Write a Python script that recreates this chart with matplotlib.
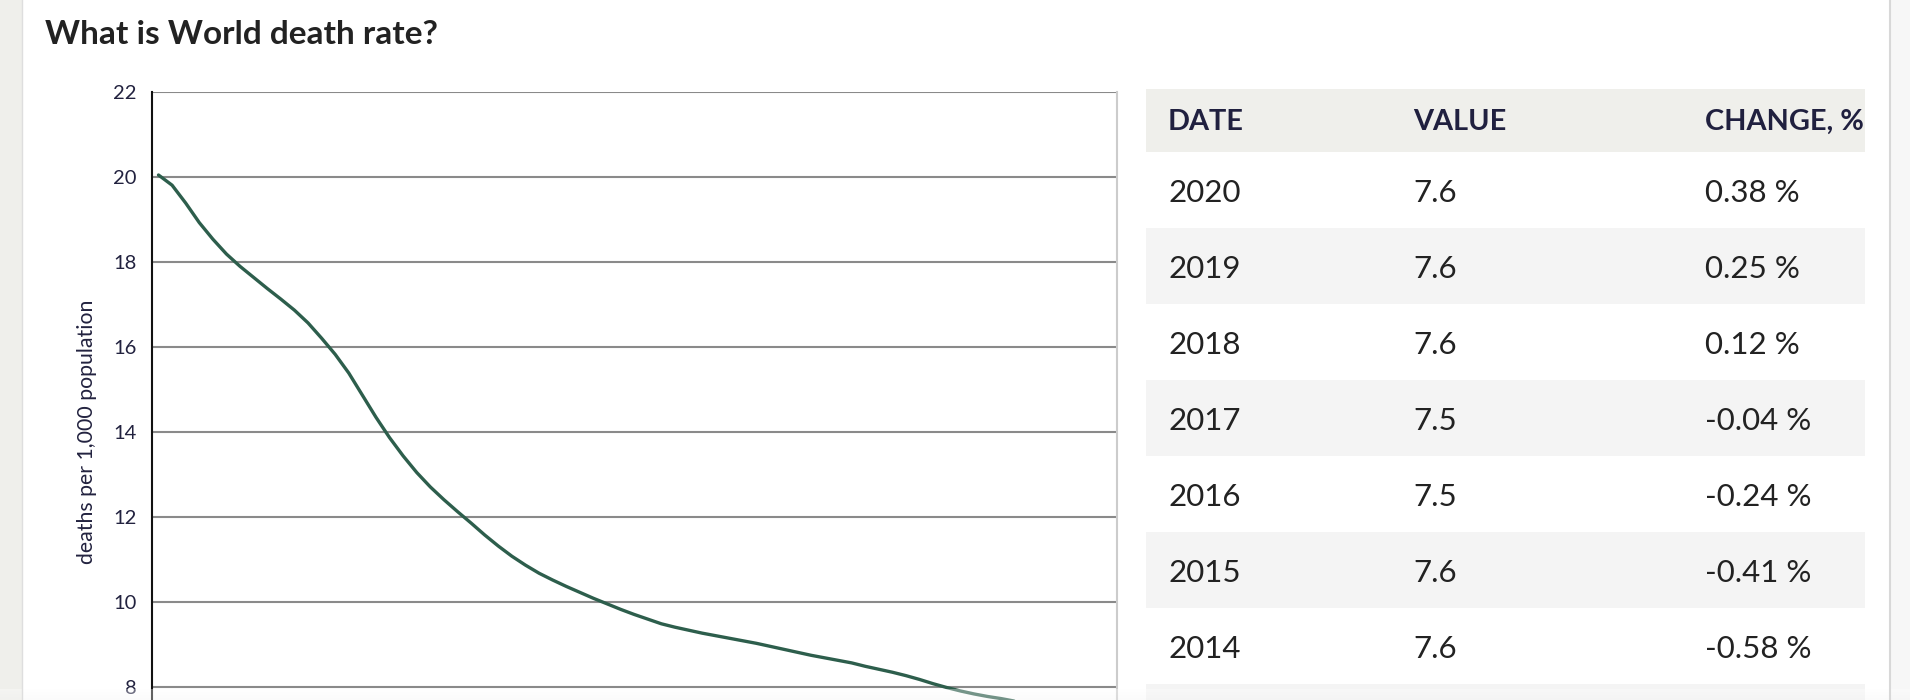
#!/usr/bin/env python3
"""World death rate line chart with a table of recent values next to it."""
import numpy as np
import matplotlib.pyplot as plt
from matplotlib.patches import Rectangle

# crude death rate, deaths per 1,000 population
YEARS = list(range(1950, 2021))
DEATH_RATE = [
    20.04, 19.80, 19.38, 18.92, 18.53, 18.18, 17.89, 17.63, 17.37, 17.12,
    16.86, 16.56, 16.20, 15.82, 15.38, 14.86, 14.34, 13.86, 13.43, 13.04,
    12.70, 12.40, 12.12, 11.85, 11.57, 11.31, 11.07, 10.86, 10.67, 10.51,
    10.36, 10.22, 10.08, 9.95, 9.82, 9.70, 9.59, 9.48, 9.40, 9.33,
    9.26, 9.20, 9.14, 9.08, 9.02, 8.95, 8.88, 8.81, 8.74, 8.68,
    8.62, 8.56, 8.48, 8.41, 8.34, 8.26, 8.17, 8.07, 7.98, 7.90,
    7.83, 7.77, 7.72, 7.66, 7.60, 7.56, 7.55, 7.54, 7.55, 7.57,
    7.60,
]
Y_TICKS = [6, 8, 10, 12, 14, 16, 18, 20, 22]

# table on the right
TABLE_HEADER = ['DATE', 'VALUE', 'CHANGE, %']
TABLE_DATES = ['2020', '2019', '2018', '2017', '2016', '2015', '2014']
TABLE_VALUES = ['7.6', '7.6', '7.6', '7.5', '7.5', '7.6', '7.6']
TABLE_CHANGES = ['0.38 %', '0.25 %', '0.12 %', '-0.04 %', '-0.24 %', '-0.41 %', '-0.58 %']

W, H = 1910, 700
LINE_COLOR = '#2d5e4c'
NAVY = '#22223f'
FONT = ['Lato', 'DejaVu Sans']


def px(x, y):
    # pixel (from top-left) -> figure fraction
    return x / W, 1 - y / H


fig = plt.figure(figsize=(W / 100, H / 100), dpi=100, facecolor='white')

# ---- chart ----
left, right, top, bottom = 151.7, 1116.7, 91.7, 771.7
ax = fig.add_axes([left / W, 1 - bottom / H, (right - left) / W, (bottom - top) / H])
ax.plot(YEARS, DEATH_RATE, color=LINE_COLOR, linewidth=2.4, solid_capstyle='round',
        solid_joinstyle='round', zorder=3)
ax.set_xlim(1949.5, 2020.5)
ax.set_ylim(6, 22)
ax.set_yticks(Y_TICKS)
ax.set_xticks([])
ax.grid(axis='y', color='#8a8a8a', linewidth=1.5)
ax.set_axisbelow(True)
ax.tick_params(axis='y', length=0, pad=11, labelsize=14.5, labelcolor=NAVY)
for lab in ax.get_yticklabels():
    lab.set_family(FONT)
for side in ('top', 'bottom'):
    ax.spines[side].set_visible(False)
ax.spines['left'].set_color('#111111')
ax.spines['left'].set_linewidth(1.5)
ax.spines['right'].set_color('#cccccc')
ax.spines['right'].set_linewidth(1.5)
ax.set_ylabel('deaths per 1,000 population', family=FONT, fontsize=15.3, color=NAVY)
ax.yaxis.set_label_coords((97 - left) / (right - left), 0.5)

# ---- page title ----
fig.text(*px(45, 44), 'What is World death rate?', family=FONT, fontweight='bold',
         fontsize=24, color='#222222', va='baseline', ha='left')

# ---- overlay for table and page edges ----
ov = fig.add_axes([0, 0, 1, 1], zorder=5)
ov.set_xlim(0, W)
ov.set_ylim(H, 0)
ov.axis('off')
ov.patch.set_alpha(0)

tbl_left, tbl_right = 1146, 1865
head_top, head_h, row_h = 88.5, 63.5, 76
col_x = [1168, 1413, 1705]

ov.add_patch(Rectangle((tbl_left, head_top), tbl_right - tbl_left, head_h, color='#efefeb', lw=0))
for j, name in enumerate(TABLE_HEADER):
    ov.text(col_x[j], head_top + 41, name, family=FONT, fontweight='bold', fontsize=20.8,
            color='#20203f', va='baseline', ha='left')

n_rows = len(TABLE_DATES) + 1  # one more striped row is cut off at the bottom
for i in range(n_rows):
    y0 = head_top + head_h + i * row_h
    if i % 2 == 1:
        ov.add_patch(Rectangle((tbl_left, y0), tbl_right - tbl_left, row_h, color='#f4f4f4', lw=0))
    if i < len(TABLE_DATES):
        cells = [TABLE_DATES[i], TABLE_VALUES[i], TABLE_CHANGES[i]]
        for j, txt in enumerate(cells):
            ov.text(col_x[j], y0 + 50, txt, family=FONT, fontsize=22.5, color='#222222',
                    va='baseline', ha='left')

# page edges
ov.add_patch(Rectangle((0, 0), 22, H, color='#efefeb', lw=0))
ov.plot([22, 22], [0, H], color='#dedede', lw=1)
ov.add_patch(Rectangle((1890, 0), W - 1890, H, color='#f7f7f7', lw=0))
ov.plot([1890, 1890], [0, H], color='#d8d8d8', lw=1.5)
shade = np.linspace(0, 1, 12).reshape(-1, 1)
ov.imshow(shade, extent=(0, W, 700, 689), cmap='Greys', vmin=0, vmax=12, alpha=0.35,
          aspect='auto', zorder=1)
ov.set_xlim(0, W)
ov.set_ylim(H, 0)

fig.savefig('out.png', dpi=100, facecolor='white')
